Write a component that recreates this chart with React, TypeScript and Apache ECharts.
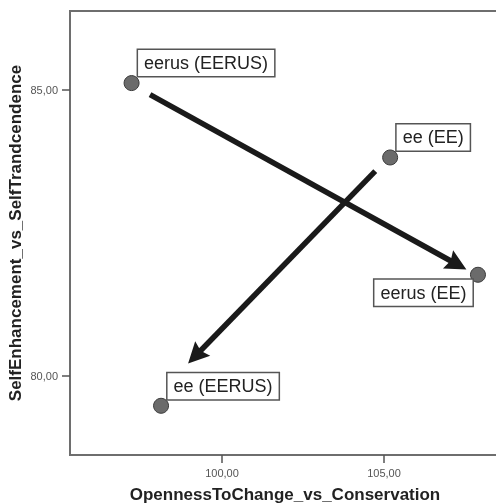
import React, { useEffect, useRef } from "react";
import * as echarts from "echarts";

// Points
const pointNames = ["eerus (EERUS)", "ee (EE)", "eerus (EE)", "ee (EERUS)"];
const opennessValues = [97.21, 105.19, 107.9, 98.12];
const selfEnhValues = [85.12, 83.82, 81.77, 79.48];

// Arrows (start -> arrowhead centre), in data coordinates
const arrowStartX = [97.78, 104.73];
const arrowStartY = [84.92, 83.58];
const arrowEndX = [107.26, 99.18];
const arrowEndY = [81.95, 80.35];

// Axis ranges and ticks
const xRange = [95.31, 108.58];
const yRange = [78.62, 86.38];
const xTicks = [100, 105];
const yTicks = [80, 85];

const xName = "OpennessToChange_vs_Conservation";
const yName = "SelfEnhancement_vs_SelfTrandcendence";

// label placement per point: [dx, dy, align]
const labelPlacement: [number, number, string][] = [
  [14.5, -25, "left"],
  [14.5, -25, "left"],
  [2.5, 13, "right"],
  [14.5, -24.5, "left"],
];

const FONT = "'Liberation Sans', Arial, sans-serif";

export default function App() {
  const ref = useRef<HTMLDivElement>(null);
  useEffect(() => {
    if (!ref.current) return;
    const chart = echarts.init(ref.current, null, { renderer: "svg" });
    const fmt = (v: number) => v.toFixed(2).replace(".", ",");
    const axisColor = "#6e6e6e";
    const data = pointNames.map((n, i) => ({
      name: n,
      value: [opennessValues[i], selfEnhValues[i]],
      label: {
        show: true,
        position: [labelPlacement[i][0], labelPlacement[i][1]],
        align: labelPlacement[i][2],
        verticalAlign: "top",
        formatter: "{b}",
        fontFamily: FONT,
        fontSize: 18,
        color: "#222",
        backgroundColor: "#fff",
        borderColor: "#555",
        borderWidth: 1.5,
        padding: [4, 6, 4, 6],
        lineHeight: 18,
      },
    }));
    const arrows = arrowStartX.map((_, i) => [
      { coord: [arrowStartX[i], arrowStartY[i]] },
      { coord: [arrowEndX[i], arrowEndY[i]] },
    ]);
    chart.setOption({
      animation: false,
      grid: {
        left: 70,
        top: 11,
        width: 430,
        height: 444,
        show: true,
        borderColor: axisColor,
        borderWidth: 2,
        backgroundColor: "transparent",
        outerBoundsMode: "none",
        containLabel: false,
      },
      xAxis: {
        type: "value",
        min: xRange[0],
        max: xRange[1],
        name: xName,
        nameLocation: "middle",
        nameGap: 31,
        nameMoveOverlap: false,
        nameTextStyle: { fontFamily: FONT, fontSize: 17, fontWeight: "bold", color: "#222" },
        axisLine: { show: true, lineStyle: { color: axisColor, width: 2 } },
        axisTick: { show: true, customValues: xTicks, length: 8, lineStyle: { color: "#555", width: 1.5 } },
        axisLabel: {
          customValues: xTicks,
          formatter: fmt,
          margin: 12,
          fontFamily: FONT,
          fontSize: 11,
          color: "#555",
        },
        splitLine: { show: false },
      },
      yAxis: {
        type: "value",
        min: yRange[0],
        max: yRange[1],
        name: yName,
        nameLocation: "middle",
        nameGap: 46,
        nameMoveOverlap: false,
        nameTextStyle: { fontFamily: FONT, fontSize: 17, fontWeight: "bold", color: "#222" },
        axisLine: { show: true, lineStyle: { color: axisColor, width: 2 } },
        axisTick: { show: true, customValues: yTicks, length: 8, lineStyle: { color: "#555", width: 1.5 } },
        axisLabel: {
          customValues: yTicks,
          formatter: fmt,
          margin: 12,
          fontFamily: FONT,
          fontSize: 11,
          color: "#555",
        },
        splitLine: { show: false },
      },
      series: [
        {
          type: "scatter",
          symbol: "circle",
          symbolSize: 15,
          itemStyle: { color: "#6b6b6b", borderColor: "#3a3a3a", borderWidth: 1, opacity: 1 },
          data,
          silent: true,
          z: 3,
          markLine: {
            silent: true,
            symbol: ["none", "path://M10,0 L20,21 L10,18 L0,21 Z"],
            symbolSize: 21,
            label: { show: false },
            lineStyle: { type: "solid", color: "#1a1a1a", width: 5.5 },
            itemStyle: { color: "#1a1a1a" },
            emphasis: { disabled: true },
            data: arrows,
          },
        },
      ],
    });
    return () => chart.dispose();
  }, []);
  return (
    <div
      ref={ref}
      style={{ position: "fixed", left: 0, top: 0, width: 496, height: 504 }}
    />
  );
}
